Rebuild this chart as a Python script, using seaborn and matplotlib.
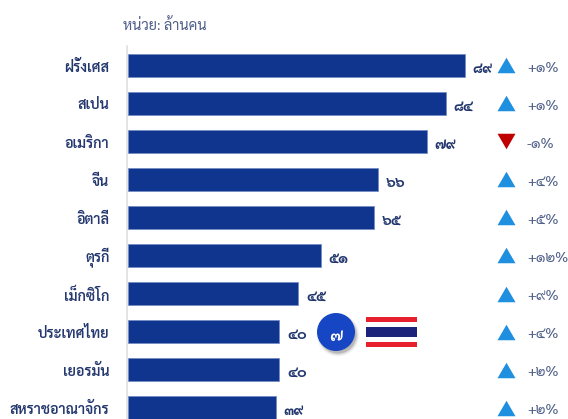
import matplotlib
matplotlib.use("Agg")
import matplotlib.pyplot as plt
from matplotlib.patches import Circle, Rectangle
from matplotlib.transforms import Affine2D, ScaledTranslation
import pandas as pd
import seaborn as sns

countries = ["ฝรั่งเศส", "สเปน", "อเมริกา", "จีน", "อิตาลี", "ตุรกี", "เม็กซิโก", "ประเทศไทย", "เยอรมัน", "สหราชอาณาจักร"]
visitors = [89, 84, 79, 66, 65, 51, 45, 40, 40, 39]
changes = [1, 1, -1, 4, 5, 12, 9, 4, 2, 2]
unit_label = "หน่วย: ล้านคน"
thai_rank = "๗"

THAI_DIGITS = str.maketrans("0123456789", "๐๑๒๓๔๕๖๗๘๙")
FONT = ["Sarabun", "DejaVu Sans"]
W, H = 568, 419

sns.set_theme(style="white")
plt.rcParams["font.family"] = FONT

fig = plt.figure(figsize=(W / 100, H / 100), dpi=100, facecolor="white")
ax = fig.add_axes([0, 0, 1, 1])

df = pd.DataFrame({"country": countries, "visitors": visitors})
sns.barplot(data=df, y="country", x="visitors", orient="h", width=0.6,
            color="#10358F", saturation=1, edgecolor="#6F8AC4", linewidth=0.5, ax=ax)

# 3.787 px per million, zero at x=128; rows 38 px apart, first row centred at y=65.5
ax.set_xlim(-128 / 3.787, (W - 128) / 3.787)
ax.set_ylim((H - 65.5) / 38, -65.5 / 38)
ax.set_xlabel("")
ax.set_ylabel("")
ax.set_xticks([])

for side in ("top", "right", "bottom"):
    ax.spines[side].set_visible(False)
ax.spines["left"].set_position(("data", -0.15))
ax.spines["left"].set_color("#DCDCDC")
ax.spines["left"].set_linewidth(1.1)
ax.spines["left"].set_bounds((46 - 65.5) / 38, (H - 65.5) / 38)

ax.tick_params(axis="y", length=0, pad=13)
label_shift = ScaledTranslation(0, -2 / 100, fig.dpi_scale_trans)
for lab in ax.get_yticklabels():
    lab.set_fontsize(10.3)
    lab.set_fontweight("semibold")
    lab.set_color("#24386F")
    lab.set_va("center")
    lab.set_transform(lab.get_transform() + label_shift)

# Upward and downward triangles share a slightly flattened outline
up_marker = [(-9, -7.75), (9, -7.75), (0, 7.75)]
down_marker = [(-9, 7.75), (9, 7.75), (0, -7.75)]
tri_x = (506 - 128) / 3.787
pct_x = (527 - 128) / 3.787
for i, (v, c) in enumerate(zip(visitors, changes)):
    ax.text(v + 7.5 / 3.787, i + 0.09, str(v).translate(THAI_DIGITS), ha="left", va="center",
            fontsize=10.5, fontweight="bold", color="#24386F")
    ax.scatter([tri_x], [i], s=168, linewidths=0, zorder=3,
               marker=up_marker if c >= 0 else down_marker,
               color="#1F8FE0" if c >= 0 else "#C00000")
    ax.text(pct_x, i + 0.08, f"{c:+d}%".translate(THAI_DIGITS), ha="left", va="center",
            fontsize=10.3, color="#4F5F88")

ax.text(-5 / 3.787, (26 - 65.5) / 38, unit_label, ha="left", va="center",
        fontsize=10.4, color="#4F5F88")

# Overlays below are placed in pixels, y measured from the top
px = Affine2D().scale(1 / W, -1 / H).translate(0, 1) + fig.transFigure

for r, a in [(21.5, 0.03), (20.5, 0.05), (19.5, 0.08), (18.5, 0.14)]:
    fig.add_artist(Circle((338, 335), r, transform=px, facecolor="black", alpha=a,
                          edgecolor="none", zorder=5))
fig.add_artist(Circle((336, 332), 19, transform=px, facecolor="#1746C4",
                      edgecolor="none", zorder=6))
fig.text(336 / W, 1 - 336 / H, thai_rank, ha="center", va="center", color="white",
         fontsize=12.5, fontweight="semibold", zorder=7)

flag_stripes = [(317, 5, "#E8202E"), (322, 5, "white"), (327, 10, "#1B247A"),
                (337, 5, "white"), (342, 5, "#E8202E")]
for top, h, col in flag_stripes:
    fig.add_artist(Rectangle((366, top), 51, h, transform=px, facecolor=col,
                             edgecolor="none", zorder=6))

fig.savefig("out.png", dpi=100)
